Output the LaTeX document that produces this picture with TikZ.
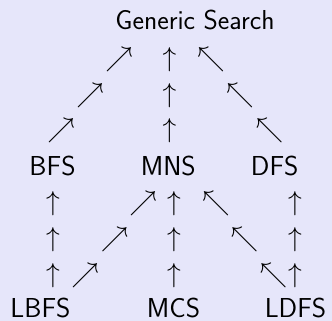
\documentclass[tikz,border=0pt]{standalone}
\usepackage{fix-cm}
\usepackage{tikz}
\definecolor{slidebg}{RGB}{230, 230, 250}
\tikzstyle{algo} = [inner sep=0pt, anchor=base, text=black, font=\fontsize{27.4}{32}\selectfont\sffamily]
\tikzstyle{up} = [inner sep=0pt, text=black, font=\fontsize{27.4}{32}\selectfont]

\begin{document}
\begin{tikzpicture}[x=1pt, y=-1pt]
\fill[slidebg] (0,0) rectangle (332,321);
\useasboundingbox (0,0) rectangle (332,321);

% Algorithmen
\node (gs) [algo] at (195,30) {Generic Search};
\node (bfs) [algo] at (52.5,175) {BFS};
\node (mns) [algo] at (168.3,175) {MNS};
\node (dfs) [algo] at (274.7,175) {DFS};
\node (lbfs) [algo] at (40.5,317) {LBFS};
\node (mcs) [algo] at (173.5,317) {MCS};
\node (ldfs) [algo] at (295.5,317) {LDFS};

% BFS -> Generic Search
\node (bg1) [up] at (61,131) {$\nearrow$};
\node (bg2) [up] at (90,95.5) {$\nearrow$};
\node (bg3) [up] at (119,59.5) {$\nearrow$};

% MNS -> Generic Search
\node (mg1) [up] at (169.5,131) {$\uparrow$};
\node (mg2) [up] at (169.5,95.5) {$\uparrow$};
\node (mg3) [up] at (169.5,59.5) {$\uparrow$};

% DFS -> Generic Search
\node (dg1) [up] at (269.5,131) {$\nwarrow$};
\node (dg2) [up] at (240,95.5) {$\nwarrow$};
\node (dg3) [up] at (211,59.5) {$\nwarrow$};

% LBFS -> BFS
\node (lb1) [up] at (53,275.5) {$\uparrow$};
\node (lb2) [up] at (53,239.5) {$\uparrow$};
\node (lb3) [up] at (53,203.5) {$\uparrow$};

% LBFS -> MNS
\node (lm1) [up] at (85,275.5) {$\nearrow$};
\node (lm2) [up] at (114.5,239.5) {$\nearrow$};
\node (lm3) [up] at (143,203.5) {$\nearrow$};

% MCS -> MNS
\node (cm1) [up] at (174,275.5) {$\uparrow$};
\node (cm2) [up] at (174,239.5) {$\uparrow$};
\node (cm3) [up] at (174,203.5) {$\uparrow$};

% LDFS -> MNS
\node (dm1) [up] at (273.5,275.5) {$\nwarrow$};
\node (dm2) [up] at (244.5,239.5) {$\nwarrow$};
\node (dm3) [up] at (216,203.5) {$\nwarrow$};

% LDFS -> DFS
\node (ld1) [up] at (295,275.5) {$\uparrow$};
\node (ld2) [up] at (295,239.5) {$\uparrow$};
\node (ld3) [up] at (295,203.5) {$\uparrow$};

\end{tikzpicture}
\end{document}
